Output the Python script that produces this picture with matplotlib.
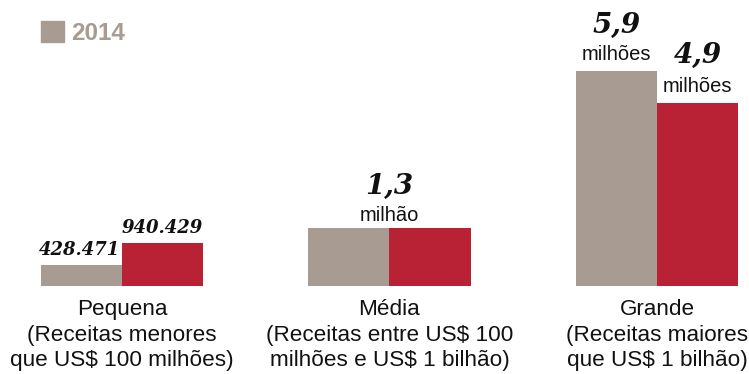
import numpy as np
import matplotlib.pyplot as plt
from matplotlib.patches import Patch

# categorias (rótulos do eixo x)
categorias = ['Pequena\n(Receitas menores\nque US$ 100 milhões)',
              'Média\n(Receitas entre US$ 100\nmilhões e US$ 1 bilhão)',
              'Grande\n(Receitas maiores\nque US$ 1 bilhão)']

# altura das barras (milhões)
barras_2014 = [0.58, 1.59, 5.90]
barras_2015 = [1.18, 1.59, 5.02]

# rótulos de valor
valor_2014 = ['428.471', '', '5,9']
valor_2015 = ['940.429', '', '4,9']
unid_2014 = ['', '', 'milhões']
unid_2015 = ['', '', 'milhões']
valor_grupo = ['', '1,3', '']
unid_grupo = ['', 'milhão', '']

cor_cinza = '#a89b91'
cor_verm = '#b82234'
sans = 'Liberation Sans'
serif = 'DejaVu Serif'

fig = plt.figure(figsize=(7.49, 3.74), dpi=100)
ax = fig.add_axes([0, 88/374, 1, 286/374])

x = np.arange(len(categorias))
w = 0.303
b1 = ax.bar(x - w/2, barras_2014, w, color=cor_cinza, label='2014')
b2 = ax.bar(x + w/2, barras_2015, w, color=cor_verm)

ax.set_xlim(-0.456, 2.344)
ax.set_ylim(0, 286/36.44)
for s in ax.spines.values():
    s.set_visible(False)
ax.set_yticks([])
ax.set_xticks(x)
ax.set_xticklabels(categorias, fontsize=16.2, family=sans, color='#111111',
                   linespacing=1.28)
ax.tick_params(axis='x', length=0, pad=9.5)

def numero(txt, xx, yy, dx=0, dy=37, ha='center', size=20):
    ax.annotate(txt, (xx, yy), xytext=(dx, dy), textcoords='offset pixels',
                ha=ha, va='baseline', fontsize=size, family=serif,
                weight='bold', style='italic', color='#111111')

def unidade(txt, xx, yy, dy=9):
    ax.annotate(txt, (xx, yy), xytext=(0, dy), textcoords='offset pixels',
                ha='center', va='baseline', fontsize=14.5, family=sans,
                color='#111111')

for i in range(len(categorias)):
    if unid_2014[i]:
        unidade(unid_2014[i], x[i] - w/2, barras_2014[i], dy=11)
        numero(valor_2014[i], x[i] - w/2, barras_2014[i], dy=38)
    elif valor_2014[i]:
        # sem unidade: número logo acima, alinhado à direita da barra
        numero(valor_2014[i], x[i], barras_2014[i], dx=-2, dy=10, ha='right', size=13)
    if unid_2015[i]:
        unidade(unid_2015[i], x[i] + w/2, barras_2015[i], dy=11)
        numero(valor_2015[i], x[i] + w/2, barras_2015[i], dy=40)
    elif valor_2015[i]:
        numero(valor_2015[i], x[i] + w/2, barras_2015[i], dy=10, size=13)
    if unid_grupo[i]:
        topo = max(barras_2014[i], barras_2015[i])
        unidade(unid_grupo[i], x[i], topo, dy=7)
        numero(valor_grupo[i], x[i], topo, dy=34)

fig.legend(handles=[Patch(color=cor_cinza)], labels=['2014'],
           loc='upper left', bbox_to_anchor=(41/749, 1 - 21/374),
           frameon=False, borderpad=0, borderaxespad=0,
           handlelength=0.95, handleheight=0.95, handletextpad=0.3,
           prop={'family': sans, 'weight': 'bold', 'size': 17.5},
           labelcolor=cor_cinza)

fig.savefig('out.png', dpi=100)
